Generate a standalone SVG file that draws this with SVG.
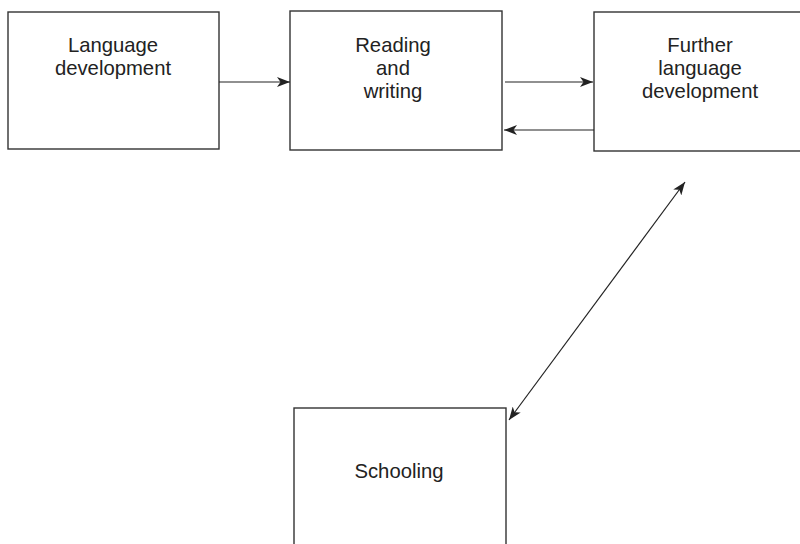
<svg xmlns="http://www.w3.org/2000/svg" width="800" height="544" viewBox="0 0 800 544">
<style>
.box{fill:#fff;stroke:#333;stroke-width:1.4}
.lbl{font-family:"Liberation Sans",Arial,sans-serif;font-size:20.3px;fill:#222;text-anchor:middle}
.con{stroke:#222;stroke-width:1.2;fill:none}
</style>
<defs>
<marker id="ah" viewBox="0 0 13 10" refX="13" refY="5" markerWidth="13" markerHeight="10" markerUnits="userSpaceOnUse" orient="auto-start-reverse">
<path d="M0,0 L13,5 L0,10 L3.5,5 Z" fill="#222"/>
</marker>
</defs>
<g id="n1"><rect class="box" x="8" y="12" width="211" height="137"/>
<text class="lbl" x="113" y="52">Language</text><text class="lbl" x="113" y="75">development</text></g>
<g id="n2"><rect class="box" x="290" y="11" width="212" height="139"/>
<text class="lbl" x="393" y="52">Reading</text><text class="lbl" x="393" y="75">and</text><text class="lbl" x="393" y="98">writing</text></g>
<g id="n3"><rect class="box" x="594" y="12" width="220" height="139"/>
<text class="lbl" x="700" y="52">Further</text><text class="lbl" x="700" y="75">language</text><text class="lbl" x="700" y="98">development</text></g>
<g id="n4"><rect class="box" x="294" y="408" width="212" height="150"/>
<text class="lbl" x="399" y="478">Schooling</text></g>
<g id="connectors">
<line class="con" x1="219" y1="82" x2="290" y2="82" marker-end="url(#ah)"/>
<line class="con" x1="505" y1="82" x2="593" y2="82" marker-end="url(#ah)"/>
<line class="con" x1="594" y1="130" x2="504" y2="130" marker-end="url(#ah)"/>
<line class="con" x1="509" y1="420" x2="685" y2="182" marker-start="url(#ah)" marker-end="url(#ah)"/>
</g>
</svg>
